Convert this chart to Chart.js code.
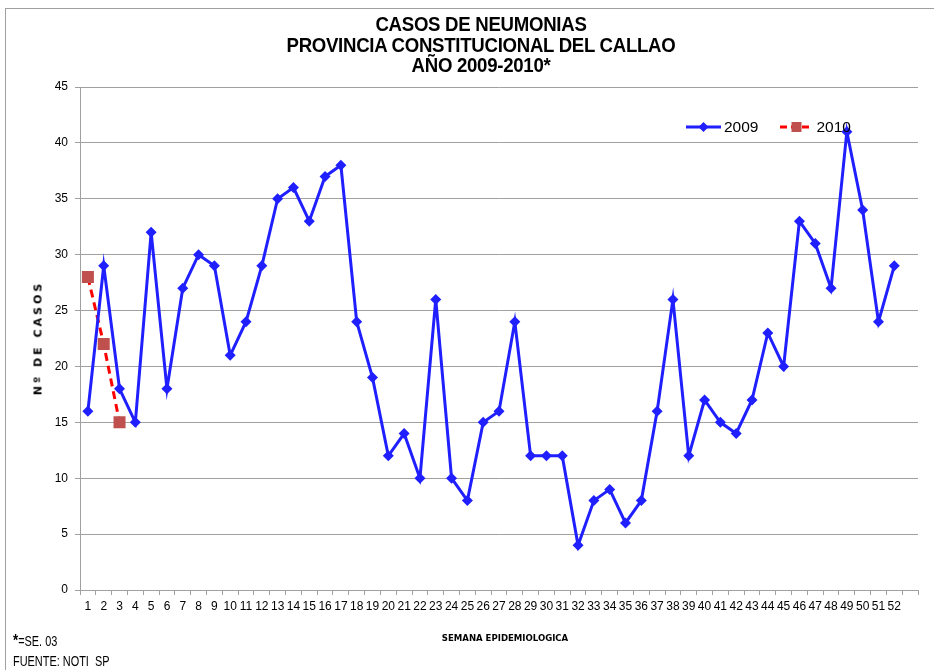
<!DOCTYPE html>
<html>
<head>
<meta charset="utf-8">
<script src="https://cdn.jsdelivr.net/npm/chart.js@4"></script>
<style>
  html, body { margin:0; padding:0; background:#fff; width:934px; height:670px; overflow:hidden; }
  #wrap { position:absolute; left:0; top:0; width:934px; height:670px; }
  #frame { position:absolute; left:5px; top:8px; width:1000px; height:700px; border:1px solid #a0a0a0; box-sizing:border-box; }
  canvas { position:absolute; left:0; top:0; }
  .title { position:absolute; left:14px; width:934px; text-align:center; font-family:"Liberation Sans","Arial",sans-serif; font-weight:bold; font-size:19.5px; color:#000; line-height:20.5px; top:14px; transform:scaleX(0.955); transform-origin:467px 0; letter-spacing:-0.3px; }
  .ytitle { position:absolute; left:38px; top:338px; transform:translate(-50%,-50%) rotate(-90deg); font-family:"DejaVu Sans","Verdana",sans-serif; font-weight:bold; font-size:11px; letter-spacing:3px; white-space:nowrap; color:#000; }
  .xtitle { position:absolute; left:505px; top:632px; transform:translateX(-50%); font-family:"DejaVu Sans Condensed","DejaVu Sans",sans-serif; font-weight:bold; font-size:9.5px; white-space:nowrap; color:#000; }
  .note { position:absolute; left:13px; font-family:"Liberation Sans","Arial",sans-serif; font-size:14px; color:#000; white-space:nowrap; transform:scaleX(0.78); transform-origin:0 0; }
  .legend { position:absolute; top:118px; font-family:"Liberation Sans","Arial",sans-serif; font-size:15.5px; color:#000; display:flex; align-items:center; }
  .lg { display:flex; align-items:center; }
  .lg canvas { position:static; margin-right:3px; }
</style>
</head>
<body>
<div id="wrap">
  <div id="frame"></div>
  <canvas id="c" width="934" height="670"></canvas>
  <div class="title">CASOS DE NEUMONIAS<br>PROVINCIA CONSTITUCIONAL DEL CALLAO<br>AÑO 2009-2010*</div>
  <div class="ytitle">Nº DE CASOS</div>
  <div class="xtitle">SEMANA EPIDEMIOLOGICA</div>
  <div class="note" style="top:631px;"><b style="font-size:17px;">*</b>=SE. 03</div>
  <div class="note" style="top:653px;">FUENTE: NOTI&nbsp; SP</div>
  <div class="legend" style="left:686px;">
    <div class="lg" style="margin-right:22px;"><canvas id="lg1" width="35" height="14"></canvas><span>2009</span></div>
    <div class="lg"><canvas id="lg2" width="33" height="14"></canvas><span>2010</span></div>
  </div>
</div>
<script>
const weeks = ["1","2","3","4","5","6","7","8","9","10","11","12","13","14","15","16","17","18","19","20","21","22","23","24","25","26","27","28","29","30","31","32","33","34","35","36","37","38","39","40","41","42","43","44","45","46","47","48","49","50","51","52"];
const cases2009 = [16,29,18,15,32,18,27,30,29,21,24,29,35,36,33,37,38,24,19,12,14,10,26,10,8,15,16,24,12,12,12,4,8,9,6,8,16,26,12,17,15,14,17,23,20,33,31,27,41,34,24,29];
const cases2010 = [28,22,15];
const seriesNames = ["2009","2010"];
const yMin = 0, yMax = 45, yStep = 5;

const blue = "#1f1fff";
const red = "#ff0000";
const sq = "#c0504d";

const tickFont = { family: "'Liberation Sans Narrow','Arial Narrow','Liberation Sans',sans-serif", size: 12 };

new Chart(document.getElementById("c"), {
  type: "line",
  data: {
    labels: weeks.concat([""]),
    datasets: [
      { label: seriesNames[0], data: cases2009, borderColor: blue, backgroundColor: blue, borderWidth: 3,
        pointStyle: "rectRot", pointRadius: 5.5, pointBackgroundColor: blue, pointBorderColor: blue, pointBorderWidth: 0, tension: 0 },
      { label: seriesNames[1], data: cases2010, borderColor: red, backgroundColor: sq, borderWidth: 3, borderDash: [8,5],
        pointStyle: "rect", pointRadius: 8.5, pointBackgroundColor: sq, pointBorderColor: sq, pointBorderWidth: 0, tension: 0 }
    ]
  },
  options: {
    responsive: false,
    animation: false,
    events: [],
    layout: { padding: { top: 87, right: 16, bottom: 0, left: 0 } },
    plugins: { legend: { display: false }, title: { display: false }, tooltip: { enabled: false } },
    scales: {
      x: {
        offset: true,
        grid: { display: true, drawOnChartArea: false, drawTicks: true, tickLength: 5, color: "#a0a0a0", offset: true },
        border: { display: true, color: "#a0a0a0", width: 1 },
        ticks: { font: tickFont, color: "#000", maxRotation: 0, autoSkip: false, padding: 4 },
        afterFit: (s) => { s.height = 80; }
      },
      y: {
        min: yMin, max: yMax,
        grid: { color: "#a0a0a0", lineWidth: 1, drawTicks: true, tickLength: 5 },
        border: { display: true, color: "#a0a0a0", width: 1 },
        ticks: { stepSize: yStep, font: tickFont, color: "#000", padding: 7 },
        afterFit: (s) => { s.width = 80; }
      }
    }
  }
});

function drawLegend(id, color, fill, dash, style) {
  const cv = document.getElementById(id);
  const ctx = cv.getContext("2d");
  const w = cv.width, m = w / 2;
  ctx.strokeStyle = color; ctx.lineWidth = 3; ctx.setLineDash(dash);
  ctx.beginPath(); ctx.moveTo(0, 7); ctx.lineTo(w, 7); ctx.stroke();
  ctx.setLineDash([]);
  ctx.fillStyle = fill;
  if (style === "rectRot") {
    ctx.beginPath(); ctx.moveTo(m, 2); ctx.lineTo(m + 5, 7); ctx.lineTo(m, 12); ctx.lineTo(m - 5, 7); ctx.closePath(); ctx.fill();
  } else {
    ctx.fillRect(m - 5, 2, 10, 10);
  }
}
drawLegend("lg1", blue, blue, [], "rectRot");
drawLegend("lg2", red, sq, [7,4], "rect");
</script>
</body>
</html>
